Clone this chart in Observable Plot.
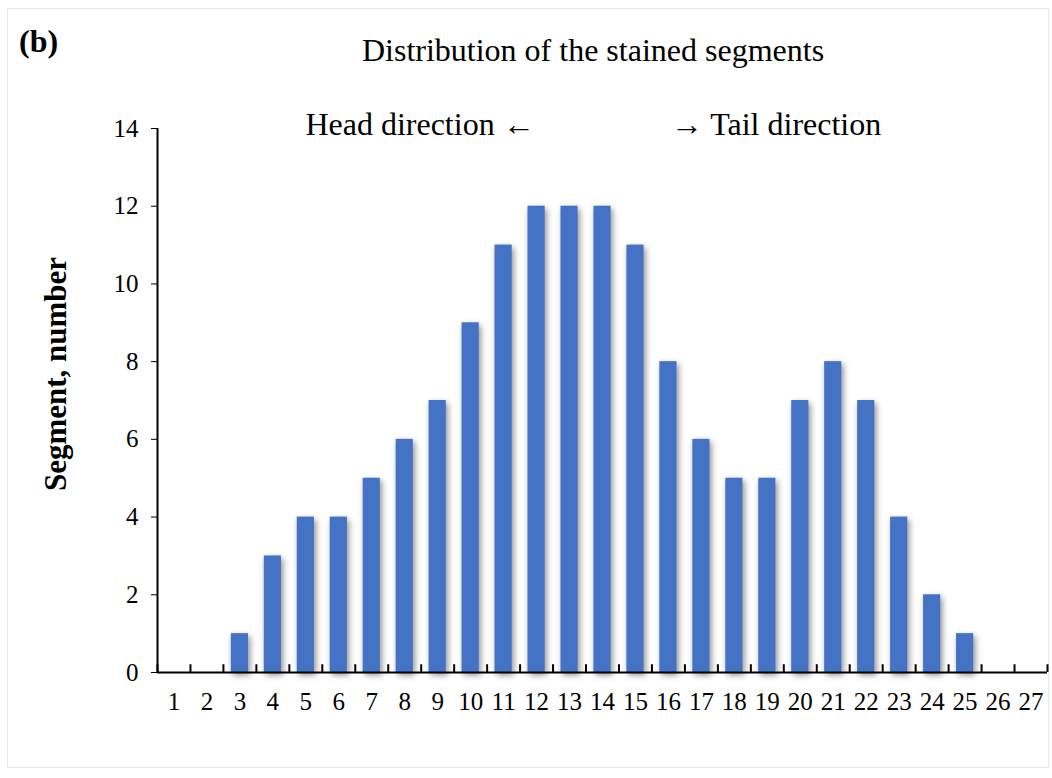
<!DOCTYPE html>
<html>
<head>
<meta charset="utf-8">
<script src="https://cdn.jsdelivr.net/npm/d3@7"></script>
<script src="https://cdn.jsdelivr.net/npm/@observablehq/plot@0.6"></script>
<style>
  body { margin: 0; background: #fff; }
  #wrap { position: relative; width: 1052px; height: 778px; font-family: "Liberation Serif", "Times New Roman", serif; color: #000; }
  #frame { position: absolute; left: 7px; top: 8px; width: 1042px; height: 760px; border: 1px solid #e6e6e6; box-sizing: border-box; }
  .t { position: absolute; white-space: nowrap; line-height: 1; }
</style>
</head>
<body>
<div id="wrap">
  <div id="frame"></div>
  <div id="chart" style="position:absolute;left:0;top:0;"></div>
  <div class="t" style="left:19px;top:25px;font-size:32px;font-weight:bold;">(b)</div>
  <div class="t" style="left:593px;top:34px;font-size:32px;transform:translateX(-50%);">Distribution of the stained segments</div>
  <div class="t" style="left:420px;top:108px;font-size:32px;transform:translateX(-50%);">Head direction ←</div>
  <div class="t" style="left:776px;top:108px;font-size:32px;transform:translateX(-50%);">→ Tail direction</div>
  <div class="t" style="left:55px;top:374px;font-size:31px;font-weight:bold;transform:translate(-50%,-50%) rotate(-90deg);">Segment, number</div>
</div>
<script>
const segments = [1,2,3,4,5,6,7,8,9,10,11,12,13,14,15,16,17,18,19,20,21,22,23,24,25,26,27];
const counts   = [0,0,1,3,4,4,5,6,7,9,11,12,12,12,11,8,6,5,5,7,8,7,4,2,1,0,0];
const yTicks = [0,2,4,6,8,10,12,14];

const data = segments.map((s, i) => ({seg: s, n: counts[i]}));
const bars = data.filter(d => d.n > 0);
const boundaries = d3.range(0.5, segments.length + 1, 1);
const halfBar = 0.26;

const chart = Plot.plot({
  width: 1052,
  height: 778,
  marginLeft: 157,
  marginRight: 5,
  marginTop: 128,
  marginBottom: 106,
  style: {fontFamily: "'Liberation Serif', 'Times New Roman', serif", fontSize: "25px", background: "transparent", overflow: "visible"},
  x: {domain: [0.5, 27.5], ticks: segments, tickFormat: d => String(d), tickSize: 0, tickPadding: 20, label: null},
  y: {domain: [0, 14], ticks: yTicks, tickSize: 6, tickPadding: 13, label: null},
  marks: [
    Plot.rectY(bars, {x1: d => d.seg - halfBar, x2: d => d.seg + halfBar, y1: 0, y2: "n", fill: "#4472C4"}),
    Plot.ruleX(boundaries, {x: d => d, y1: 0, y2: 0.2, stroke: "#000", strokeWidth: 2}),
    Plot.ruleY([0], {stroke: "#000", strokeWidth: 2}),
    Plot.ruleX([0.5], {stroke: "#000", strokeWidth: 2})
  ]
});
document.getElementById("chart").appendChild(chart);
const rectGroup = chart.querySelector("g[aria-label='rect']");
if (rectGroup) rectGroup.style.filter = "drop-shadow(2px 3px 3px rgba(0,0,0,0.45))";
chart.querySelectorAll("g[aria-label$='axis tick label'], g[aria-label$='axis tick label'] text").forEach(t => {
  t.setAttribute("font-size", "25");
  t.style.fontSize = "25px";
  t.setAttribute("fill", "#000");
});
</script>
</body>
</html>
